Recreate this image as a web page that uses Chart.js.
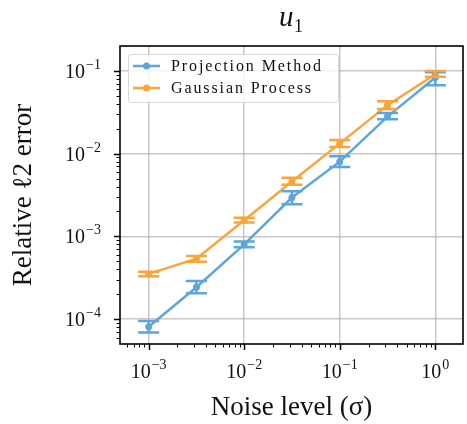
<!DOCTYPE html>
<html>
<head>
<meta charset="utf-8">
<script src="https://cdn.jsdelivr.net/npm/chart.js@4"></script>
<style>
  html, body { margin: 0; padding: 0; background: #fff; }
  #wrap { width: 467px; height: 424px; }
</style>
</head>
<body>
<div id="wrap"><canvas id="myChart" width="467" height="424"></canvas></div>
<script>
// noise levels sigma
const noise = [1e-3, 3.16e-3, 1e-2, 3.16e-2, 1e-1, 3.16e-1, 1];

// Projection Method: mean and error bar ends
const projMean = [8.1e-5, 2.43e-4, 8.0e-4, 2.95e-3, 8.0e-3, 2.8e-2, 8.3e-2];
const projLow = [6.9e-5, 2.06e-4, 7.4e-4, 2.45e-3, 6.9e-3, 2.6e-2, 6.7e-2];
const projHigh = [9.5e-5, 2.9e-4, 8.7e-4, 3.5e-3, 9.3e-3, 3.1e-2, 9.6e-2];

// Gaussian Process
const gpMean = [3.52e-4, 5.37e-4, 1.57e-3, 4.6e-3, 1.33e-2, 3.85e-2, 9.1e-2];
const gpLow = [3.3e-4, 4.95e-4, 1.47e-3, 4.2e-3, 1.2e-2, 3.45e-2, 8.5e-2];
const gpHigh = [3.75e-4, 5.8e-4, 1.68e-3, 5.1e-3, 1.46e-2, 4.3e-2, 9.95e-2];

const xTickExp = [-3, -2, -1, 0];
const yTickExp = [-4, -3, -2, -1];
const seriesNames = ['Projection Method', 'Gaussian Process'];

const blue = '#5da5da';
const orange = '#faa43a';
const serif = '"Liberation Serif", "DejaVu Serif", serif';

function toPoints(xs, ys) {
    return xs.map((x, k) => ({ x: x, y: ys[k] }));
}

function isDecade(v) {
    let l = Math.log10(v);
    return Math.abs(l - Math.round(l)) < 1e-6;
}

// error bars with caps
const errorBars = {
    id: 'errorBars',
    afterDatasetsDraw(chart) {
        const ctx = chart.ctx;
        const xs = chart.scales.x, ys = chart.scales.y;
        const sets = [[projLow, projHigh, blue], [gpLow, gpHigh, orange]];
        ctx.save();
        ctx.lineWidth = 2.5;
        sets.forEach(s => {
            ctx.strokeStyle = s[2];
            for (let k = 0; k < noise.length; k++) {
                let px = xs.getPixelForValue(noise[k]);
                let y1 = ys.getPixelForValue(s[0][k]);
                let y2 = ys.getPixelForValue(s[1][k]);
                ctx.beginPath();
                ctx.moveTo(px, y1); ctx.lineTo(px, y2);
                ctx.moveTo(px - 10.5, y1); ctx.lineTo(px + 10.5, y1);
                ctx.moveTo(px - 10.5, y2); ctx.lineTo(px + 10.5, y2);
                ctx.stroke();
            }
        });
        ctx.restore();
    }
};

function drawPow(ctx, exp, x, y, align) {
    let base = '10';
    let sup = (exp < 0 ? '\u2212' : '') + Math.abs(exp);
    ctx.font = '20px ' + serif;
    let wb = ctx.measureText(base).width;
    ctx.font = '14px ' + serif;
    let ws = ctx.measureText(sup).width;
    let total = wb + ws + 1;
    let left = align === 'right' ? x - total : x - total / 2;
    ctx.textBaseline = 'alphabetic';
    ctx.textAlign = 'left';
    ctx.font = '20px ' + serif;
    ctx.fillText(base, left, y);
    ctx.font = '14px ' + serif;
    ctx.fillText(sup, left + wb + 1, y - 9);
}

// frame, ticks, labels, legend and title
const decorations = {
    id: 'decorations',
    afterDraw(chart) {
        const ctx = chart.ctx;
        const a = chart.chartArea;
        const xs = chart.scales.x, ys = chart.scales.y;
        ctx.save();
        ctx.strokeStyle = '#000';
        ctx.fillStyle = '#111';

        // minor and major ticks
        for (let e = -6; e <= 1; e++) {
            for (let m = 1; m <= 9; m++) {
                let v = m * Math.pow(10, e);
                let len = m === 1 ? 6 : 3.5;
                ctx.lineWidth = m === 1 ? 1.5 : 1;
                if (v >= xs.min && v <= xs.max) {
                    let px = Math.round(xs.getPixelForValue(v)) + 0.5;
                    ctx.beginPath();
                    ctx.moveTo(px, a.bottom); ctx.lineTo(px, a.bottom + len);
                    ctx.stroke();
                }
                if (v >= ys.min && v <= ys.max) {
                    let py = Math.round(ys.getPixelForValue(v)) + 0.5;
                    ctx.beginPath();
                    ctx.moveTo(a.left, py); ctx.lineTo(a.left - len, py);
                    ctx.stroke();
                }
            }
        }

        // frame
        ctx.lineWidth = 1.6;
        ctx.strokeRect(a.left, a.top, a.right - a.left, a.bottom - a.top);

        // tick labels
        xTickExp.forEach(e => {
            drawPow(ctx, e, xs.getPixelForValue(Math.pow(10, e)), a.bottom + 34, 'center');
        });
        yTickExp.forEach(e => {
            drawPow(ctx, e, a.left - 19, ys.getPixelForValue(Math.pow(10, e)) + 7, 'right');
        });

        // axis titles
        ctx.textAlign = 'center';
        ctx.textBaseline = 'alphabetic';
        ctx.font = '27px ' + serif;
        ctx.fillText('Noise level (\u03c3)', (a.left + a.right) / 2, 415);
        ctx.save();
        ctx.translate(31, (a.top + a.bottom) / 2);
        ctx.rotate(-Math.PI / 2);
        ctx.fillText('Relative \u21132 error', 0, 0);
        ctx.restore();

        // title u_1
        ctx.font = 'italic 29px ' + serif;
        ctx.textAlign = 'left';
        ctx.fillText('u', 279, 26);
        ctx.font = '18px ' + serif;
        ctx.fillText('1', 294, 32);

        // legend
        ctx.fillStyle = 'rgba(255,255,255,0.8)';
        ctx.strokeStyle = '#d6d6d6';
        ctx.lineWidth = 1;
        ctx.beginPath();
        ctx.roundRect(128.5, 54.5, 210, 48, 3);
        ctx.fill();
        ctx.stroke();
        [blue, orange].forEach((c, k) => {
            let y = 66 + k * 22;
            ctx.strokeStyle = c;
            ctx.fillStyle = c;
            ctx.lineWidth = 2.5;
            ctx.beginPath();
            ctx.moveTo(133, y); ctx.lineTo(160, y);
            ctx.stroke();
            ctx.beginPath();
            ctx.arc(146.5, y, 3.5, 0, Math.PI * 2);
            ctx.fill();
            ctx.fillStyle = '#111';
            ctx.font = '16px ' + serif;
            ctx.letterSpacing = '1.9px';
            ctx.textBaseline = 'middle';
            ctx.fillText(seriesNames[k], 171, y + 1);
            ctx.letterSpacing = '0px';
        });
        ctx.restore();
    }
};

const ctx = document.getElementById('myChart');
new Chart(ctx, {
    type: 'scatter',
    data: {
        datasets: [{
            label: seriesNames[0],
            data: toPoints(noise, projMean),
            showLine: true,
            borderColor: blue,
            backgroundColor: blue,
            borderWidth: 2.5,
            pointRadius: 3.5,
            pointBorderWidth: 0
        }, {
            label: seriesNames[1],
            data: toPoints(noise, gpMean),
            showLine: true,
            borderColor: orange,
            backgroundColor: orange,
            borderWidth: 2.5,
            pointRadius: 3.5,
            pointBorderWidth: 0
        }]
    },
    options: {
        responsive: false,
        animation: false,
        layout: { padding: { left: 120, right: 1, top: 46, bottom: 80 } },
        plugins: {
            legend: { display: false },
            tooltip: { enabled: false }
        },
        scales: {
            x: {
                type: 'logarithmic',
                min: Math.pow(10, -3.3),
                max: Math.pow(10, 0.29),
                ticks: { display: false },
                border: { display: false },
                grid: {
                    drawTicks: false,
                    lineWidth: 1.5,
                    color: c => isDecade(c.tick.value) ? 'rgba(170,170,170,0.65)' : 'rgba(0,0,0,0)'
                }
            },
            y: {
                type: 'logarithmic',
                min: Math.pow(10, -4.3),
                max: Math.pow(10, -0.7),
                ticks: { display: false },
                border: { display: false },
                grid: {
                    drawTicks: false,
                    lineWidth: 1.5,
                    color: c => isDecade(c.tick.value) ? 'rgba(170,170,170,0.65)' : 'rgba(0,0,0,0)'
                }
            }
        }
    },
    plugins: [errorBars, decorations]
});
</script>
</body>
</html>
